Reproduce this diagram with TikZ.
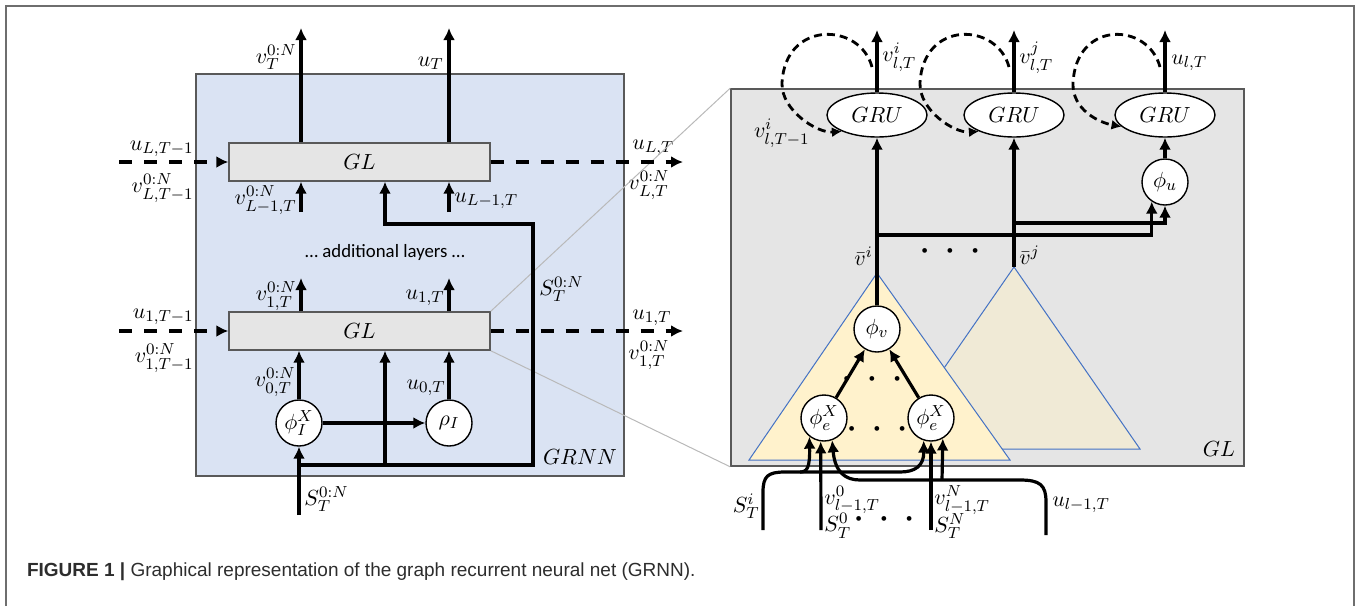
\documentclass[tikz,border=0pt]{standalone}
\usepackage{fontspec}
\usepackage{amsmath}
\usetikzlibrary{positioning,arrows.meta,shapes.geometric}
\newfontfamily\capfont{Liberation Sans}
\newfontfamily\notefont{Carlito}
\definecolor{grnncol}{RGB}{218,227,243}
\definecolor{glcol}{RGB}{229,229,229}
\definecolor{treecol}{RGB}{255,242,204}
\definecolor{treebcol}{RGB}{240,234,214}
\definecolor{edgecol}{RGB}{68,114,196}
\definecolor{framecol}{RGB}{110,110,110}
\definecolor{zoomcol}{RGB}{185,185,185}
\definecolor{capcol}{RGB}{45,45,45}
\newcommand{\bdots}{{\fontsize{8}{8}\selectfont\textbullet\hspace{6pt}\textbullet\hspace{6pt}\textbullet}}

\begin{document}
\begin{tikzpicture}[
  x=0.5pt, y=-0.5pt,
  every node/.style={font=\fontsize{11}{13}\selectfont},
  panel/.style={draw=black!65, line width=0.8pt, inner sep=0pt},
  glbox/.style={draw=black!65, fill=glcol, line width=0.7pt, minimum width=130.5pt, minimum height=19pt, inner sep=0pt},
  fn/.style={circle, draw, fill=white, line width=0.7pt, minimum size=23pt, inner sep=0pt},
  gru/.style={ellipse, draw, fill=white, line width=0.7pt, minimum width=50pt, minimum height=22pt, inner sep=0pt},
  lbl/.style={inner sep=0pt},
  arr/.style={-{Latex[length=6pt,width=6pt]}, line width=1.6pt},
  darr/.style={arr, line width=2.3pt, dash pattern=on 6.5pt off 6pt},
  rec/.style={-{Latex[length=5pt,width=5pt]}, line width=1.4pt, dash pattern=on 4pt off 2.5pt},
  zoomline/.style={draw=zoomcol, line width=0.5pt},
  tree/.style={draw=edgecol, line width=0.5pt}
]
\useasboundingbox (0,0) rectangle (1359,606);
\draw[framecol, line width=1pt] (6,606) -- (6,6) -- (1354,6) -- (1354,606);

% =================== GRNN (left) ===================
\node[panel, fill=grnncol, minimum width=214pt, minimum height=201pt] (grnn) at (410,275) {};
\node[lbl] (grnnlbl) at (580,457) {$GRNN$};

\node[glbox] (glL) at (359.5,162) {$GL$};
\node[glbox] (gl1) at (359.5,331) {$GL$};
\node[font=\notefont\fontsize{9.4}{11}\selectfont] (more) at (385,252) {… additional layers …};

\node[fn] (phiI) at (299,423) {$\phi_I^X$};
\node[fn] (rhoI) at (449,423) {$\rho_I$};

\coordinate (cv) at (301,0);
\coordinate (cu) at (449,0);
\coordinate (cs) at (385,0);
\coordinate (vTout) at (301,28);
\coordinate (uTout) at (449,28);
\coordinate (inL) at (119,162);
\coordinate (outL) at (683,162);
\coordinate (outLd) at (671,162);
\coordinate (outLs) at (667,162);
\coordinate (in1) at (119,331);
\coordinate (out1) at (683,331);
\coordinate (out1d) at (671,331);
\coordinate (out1s) at (667,331);
\coordinate (vLin) at (301,212);
\coordinate (uLin) at (449,212);
\coordinate (v1out) at (301,278);
\coordinate (u1out) at (449,278);
\coordinate (sin) at (299,515);
\coordinate (sjoin) at (299,465);
\coordinate (sR) at (533,465);
\coordinate (sRt) at (533,224);
\coordinate (sLt) at (385,224);

% labels
\node[lbl, anchor=south east] (vTlbl) at (297,70) {$v_T^{0:N}$};
\node[lbl, anchor=south east] (uTlbl) at (444,70) {$u_T$};
\node[lbl, anchor=east] (uLm) at (194,149) {$u_{L,T-1}$};
\node[lbl, anchor=east] (vLm) at (194,188) {$v^{0:N}_{L,T-1}$};
\node[lbl, anchor=west] (uLo) at (632,148) {$u_{L,T}$};
\node[lbl, anchor=west] (vLo) at (628,185) {$v^{0:N}_{L,T}$};
\node[lbl, anchor=east] (vLi) at (297,200) {$v^{0:N}_{L-1,T}$};
\node[lbl, anchor=west] (uLi) at (454,201) {$u_{L-1,T}$};
\node[lbl, anchor=east] (v1o) at (297,296) {$v^{0:N}_{1,T}$};
\node[lbl, anchor=east] (u1o) at (445,298) {$u_{1,T}$};
\node[lbl, anchor=east] (u1m) at (194,317) {$u_{1,T-1}$};
\node[lbl, anchor=east] (v1m) at (194,358) {$v^{0:N}_{1,T-1}$};
\node[lbl, anchor=west] (u1r) at (632,318) {$u_{1,T}$};
\node[lbl, anchor=west] (v1r) at (628,355) {$v^{0:N}_{1,T}$};
\node[lbl, anchor=east] (v0lbl) at (296,382) {$v^{0:N}_{0,T}$};
\node[lbl, anchor=east] (u0lbl) at (446,388) {$u_{0,T}$};
\node[lbl, anchor=west] (sinlbl) at (304,499) {$S_T^{0:N}$};
\node[lbl, anchor=west] (sRlbl) at (539,289) {$S_T^{0:N}$};

% =================== GL (right) ===================
\node[panel, fill=glcol, minimum width=256.5pt, minimum height=188.5pt] (glpan) at (987.5,277.5) {};
\node[lbl] (gllbl) at (1219,449) {$GL$};
\draw[zoomline] (gl1.north east) -- (glpan.north west);
\draw[zoomline] (gl1.south east) -- (glpan.south west);

% aggregation trees
\coordinate (t2top) at (1014,267);
\coordinate (t1top) at (877,273);
\filldraw[tree, fill=treebcol] (t2top) -- (1140,449) -- (888,449) -- cycle;
\filldraw[tree, fill=treecol] (t1top) -- (1010,460) -- (749,460) -- cycle;

\node[gru] (gru1) at (877,115) {$GRU$};
\node[gru] (gru2) at (1014,115) {$GRU$};
\node[gru] (gru3) at (1165,115) {$GRU$};
\node[fn] (phiu) at (1165,182) {$\phi_u$};
\node[fn] (phiv) at (877,329) {$\phi_v$};
\node[fn] (phiel) at (824,418) {$\phi_e^X$};
\node[fn] (phier) at (931,418) {$\phi_e^X$};

\coordinate (g1out) at (877,30);
\coordinate (g2out) at (1014,30);
\coordinate (g3out) at (1165,30);
\coordinate (lp1) at (872,67);
\coordinate (lp2) at (1009,67);
\coordinate (lp3) at (1160,67);
\coordinate (ll1) at (782,83);
\coordinate (ll2) at (920,83);
\coordinate (ll3) at (1073,83);
\coordinate (feed1) at (877,235);
\coordinate (feed2) at (1014,223);
\coordinate (sTi) at (763,530);
\coordinate (sTa) at (800,472);
\coordinate (v0in) at (821,530);
\coordinate (vNin) at (931,530);
\coordinate (ulin) at (1046,535);
\coordinate (ubr) at (942,480);

\node[lbl, anchor=west] (vilbl) at (882,57) {$v^i_{l,T}$};
\node[lbl, anchor=west] (vjlbl) at (1019,58) {$v^j_{l,T}$};
\node[lbl, anchor=west] (ulbl) at (1171,63) {$u_{l,T}$};
\node[lbl, anchor=east] (vimlbl) at (810,133) {$v^i_{l,T-1}$};
\node[lbl, anchor=east] (vbi) at (873,256) {$\bar{v}^i$};
\node[lbl, anchor=west] (vbj) at (1019,255) {$\bar{v}^j$};
\node[lbl] (dotsv) at (950,252) {\bdots};
\node[lbl] (dotsa) at (872,380) {\bdots};
\node[lbl] (dotse) at (877,430) {\bdots};
\node[lbl, anchor=east] (sTilbl) at (760,506) {$S^i_T$};
\node[lbl, anchor=west] (v0lbl2) at (824,500) {$v^0_{l-1,T}$};
\node[lbl, anchor=west] (s0lbl) at (824,526) {$S^0_T$};
\node[lbl] (dotsb) at (884,520) {\bdots};
\node[lbl, anchor=west] (vNlbl) at (934,500) {$v^N_{l-1,T}$};
\node[lbl, anchor=west] (sNlbl) at (934,526) {$S^N_T$};
\node[lbl, anchor=west] (ullbl) at (1052,505) {$u_{l-1,T}$};

% =================== arrows (GRNN) ===================
\draw[arr] (glL.north -| cv) -- (vTout);
\draw[arr] (glL.north -| cu) -- (uTout);
\draw[darr] (inL) -- (glL.west);
\draw[darr, -] (glL.east) -- (outLd);
\draw[arr] (outLs) -- (outL);
\draw[arr] (vLin) -- (glL.south -| cv);
\draw[arr] (uLin) -- (glL.south -| cu);
\draw[arr] (gl1.north -| cv) -- (v1out);
\draw[arr] (gl1.north -| cu) -- (u1out);
\draw[darr] (in1) -- (gl1.west);
\draw[darr, -] (gl1.east) -- (out1d);
\draw[arr] (out1s) -- (out1);
\draw[arr] (phiI) -- (rhoI);
\draw[arr] (phiI) -- (gl1.south -| phiI);
\draw[arr] (rhoI) -- (gl1.south -| rhoI);
\draw[arr] (sin) -- (phiI);
\draw[arr] (sjoin) -- (sR) -- (sRt) -- (sLt) -- (glL.south -| sLt);
\draw[arr] (sjoin -| cs) -- (gl1.south -| cs);

% =================== arrows (GL) ===================
\draw[arr] (gru1) -- (g1out);
\draw[arr] (gru2) -- (g2out);
\draw[arr] (gru3) -- (g3out);
\draw[rec] (lp1) .. controls +(-12,-45) and +(3,-63) .. (ll1) .. controls +(-1,27) and +(-25,2) .. (gru1.205);
\draw[rec] (lp2) .. controls +(-12,-45) and +(3,-63) .. (ll2) .. controls +(-1,27) and +(-25,2) .. (gru2.205);
\draw[rec] (lp3) .. controls +(-12,-45) and +(3,-63) .. (ll3) .. controls +(-1,27) and +(-22,-4) .. (gru3.195);
\draw[arr] (phiv) -- (gru1);
\draw[arr] (t2top) -- (gru2);
\draw[arr] (phiu) -- (gru3);
\draw[arr] (feed1) -| (phiu.236);
\draw[arr] (feed2) -| (phiu.south);
\draw[arr] (phiel) -- (phiv);
\draw[arr] (phier) -- (phiv);
\draw[arr] (sTi) -- (763,492) .. controls (763,476) and (768,472) .. (785,472) -- (sTa) .. controls (807,472) and (810,468) .. (phiel.232);
\draw[arr] (sTa) -- (900,472) .. controls (915,472) and (924,466) .. (phier.252);
\draw[arr] (v0in) -- (phiel.262);
\draw[arr] (vNin) -- (phier.south);
\draw[arr] (ulin) -- (1046,502) .. controls (1046,485) and (1040,480) .. (1020,480) -- (860,480) .. controls (845,480) and (835,472) .. (phiel.290);
\draw[arr] (ubr) -- (phier.300);

% caption
\node[anchor=west, text=capcol, font=\capfont\fontsize{9.5}{11}\selectfont] (cap) at (20,572)
  {\textbf{FIGURE 1 |} Graphical representation of the graph recurrent neural net (GRNN).};
\end{tikzpicture}
\end{document}
